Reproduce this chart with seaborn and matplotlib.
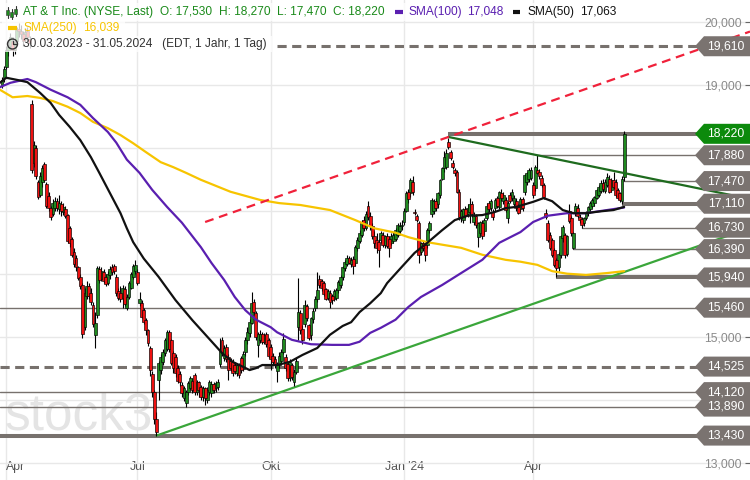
import numpy as np
import pandas as pd
import matplotlib
matplotlib.use("Agg")
import matplotlib.pyplot as plt
import seaborn as sns
from matplotlib.patches import Polygon, Rectangle, Ellipse
from matplotlib.transforms import blended_transform_factory

# ------------------------------------------------------------------ data
HOLIDAYS = ["2023-04-07", "2023-05-29", "2023-06-19", "2023-07-04", "2023-09-04",
            "2023-11-23", "2023-12-25", "2024-01-01", "2024-01-15", "2024-02-19",
            "2024-03-29", "2024-05-27"]

OPEN = [19.00,19.10,19.28,19.55,19.62,19.70,19.55,19.70,19.88,19.85,19.80,19.72,19.85,19.72,
        18.70,17.75,18.00,17.45,17.25,17.45,17.74,17.42,17.24,17.04,16.95,17.05,17.15,17.02,17.10,16.98,
        17.02,16.93,16.72,16.55,16.35,16.25,16.10,15.95,15.82,15.15,15.65,15.80,15.70,15.50,15.02,15.34,
        16.08,15.92,16.02,15.95,15.85,15.98,16.10,16.12,15.95,15.72,15.70,15.62,15.75,15.46,15.63,15.78,
        15.95,16.05,16.02,15.53,15.53,15.42,15.26,15.10,14.82,14.40,14.12,13.70,14.31,14.47,14.60,14.74,
        14.80,15.07,14.94,14.74,14.68,14.50,14.40,14.23,14.02,13.95,14.12,14.18,14.30,14.39,14.12,14.28,
        14.20,14.04,14.18,14.00,14.12,14.10,14.25,14.18,14.20,14.57,14.95,14.66,14.83,14.68,14.62,14.60,
        14.55,14.42,14.55,14.66,14.48,14.75,14.95,15.06,15.22,15.55,15.38,14.86,14.95,15.05,14.92,15.05,
        14.94,14.84,14.70,14.65,14.45,14.55,14.62,14.76,14.68,14.57,14.34,14.55,14.28,14.44,15.15,15.38,
        15.12,15.20,15.48,15.18,15.02,15.28,15.45,15.60,15.92,15.88,15.85,15.75,15.62,15.70,15.65,15.60,
        15.61,15.74,15.82,15.94,16.09,16.16,16.25,16.15,16.24,16.17,16.40,16.52,16.62,16.85,16.72,17.08,
        16.92,16.75,16.60,16.53,16.50,16.53,16.62,16.45,16.60,16.55,16.48,16.52,16.55,16.62,16.68,16.75,
        16.82,17.00,17.30,17.28,17.45,16.98,16.92,16.80,16.34,16.48,16.45,16.45,16.69,16.95,17.00,17.15,
        17.10,17.25,17.51,17.67,17.70,18.09,17.93,17.76,17.64,17.61,17.30,16.88,16.85,17.03,16.95,16.98,
        17.10,16.82,16.92,16.58,16.65,16.80,16.68,16.88,17.12,17.05,16.98,17.05,17.20,17.06,17.28,17.15,
        17.17,16.88,17.25,17.20,17.10,17.15,17.06,17.02,17.18,17.30,17.45,17.50,17.52,17.40,17.36,17.65,
        17.62,17.52,17.40,16.97,16.80,16.61,16.53,16.37,16.21,16.11,16.29,16.56,16.61,16.32,17.00,16.89,
        16.40,16.97,17.05,16.90,16.87,16.80,16.88,16.96,17.02,17.08,17.12,17.20,17.25,17.31,17.44,17.31,
        17.41,17.51,17.33,17.49,17.46,17.33,17.28,17.15,17.53]
HIGH = [19.12,19.30,19.62,19.70,19.82,19.75,19.72,19.92,19.98,19.95,19.85,19.90,19.92,19.78,
        18.75,18.10,18.05,17.48,17.62,17.72,17.78,17.45,17.30,17.08,17.18,17.22,17.20,17.25,17.15,17.12,
        17.08,16.95,16.75,16.58,16.40,16.30,16.12,16.00,15.85,15.78,15.88,15.85,15.78,15.55,15.39,16.12,
        16.12,16.10,16.08,16.00,16.05,16.12,16.15,16.15,16.00,15.78,15.80,15.82,15.80,15.68,15.88,16.02,
        16.15,16.22,16.08,15.71,15.58,15.45,15.30,15.12,14.85,14.45,14.15,13.80,14.62,14.72,14.80,14.98,
        15.10,15.10,14.97,14.78,14.72,14.55,14.45,14.28,14.22,14.15,14.30,14.38,14.35,14.42,14.32,14.30,
        14.24,14.22,14.20,14.20,14.32,14.30,14.28,14.30,14.33,14.98,15.00,14.86,14.88,14.72,14.66,14.64,
        14.60,14.58,14.58,14.70,14.78,15.00,15.15,15.28,15.71,15.60,15.40,15.08,15.10,15.08,15.06,15.08,
        14.98,14.88,14.74,14.70,14.60,14.75,14.80,15.06,14.72,14.60,14.64,14.58,14.48,14.66,15.93,15.42,
        15.18,15.58,15.52,15.20,15.32,15.45,15.65,16.03,15.98,15.92,15.88,15.78,15.76,15.74,15.68,15.76,
        15.78,15.90,15.98,16.12,16.22,16.30,16.28,16.26,16.28,16.45,16.58,16.70,16.85,16.92,17.00,17.15,
        16.98,16.80,16.68,16.65,16.55,16.68,16.66,16.62,16.64,16.60,16.64,16.66,16.72,16.80,16.82,16.85,
        17.05,17.32,17.35,17.52,17.55,17.02,16.95,16.84,16.50,16.52,16.48,16.72,16.84,17.20,17.18,17.20,
        17.30,17.50,17.70,17.95,17.98,18.15,17.96,17.80,17.68,17.65,17.35,17.02,17.05,17.08,17.10,17.20,
        17.15,16.98,16.95,16.82,16.84,16.85,16.88,17.12,17.16,17.18,17.02,17.20,17.24,17.32,17.34,17.30,
        17.22,17.15,17.30,17.35,17.25,17.20,17.10,17.22,17.22,17.58,17.62,17.68,17.70,17.45,17.72,17.88,
        17.66,17.56,17.44,17.02,16.85,16.66,16.56,16.40,16.25,16.35,16.62,16.78,16.65,16.62,17.10,16.92,
        16.66,17.12,17.10,16.95,16.90,16.90,17.00,17.08,17.15,17.20,17.24,17.35,17.40,17.48,17.50,17.50,
        17.60,17.56,17.52,17.62,17.50,17.36,17.30,17.55,18.27]
LOW = [18.95,19.05,19.25,19.45,19.55,19.45,19.48,19.66,19.75,19.72,19.62,19.68,19.70,19.58,
       17.60,17.70,17.50,17.18,17.22,17.38,17.45,17.05,17.00,16.85,16.92,17.00,17.00,16.95,16.92,16.93,
       16.88,16.48,16.42,16.27,16.10,16.05,15.90,15.75,14.98,15.10,15.60,15.60,15.50,15.15,14.82,15.30,
       15.85,15.88,15.85,15.80,15.82,15.92,15.98,16.00,15.65,15.58,15.55,15.46,15.48,15.42,15.60,15.75,
       15.92,16.00,15.82,15.48,15.30,15.20,15.03,14.85,14.37,14.05,13.62,13.43,14.00,14.40,14.55,14.70,
       14.78,14.75,14.55,14.42,14.36,14.26,14.22,14.05,13.98,13.88,14.08,14.15,14.10,14.08,14.08,14.05,
       14.00,13.98,13.92,13.95,14.08,14.05,14.10,14.12,14.15,14.52,14.70,14.62,14.60,14.32,14.45,14.38,
       14.40,14.38,14.35,14.42,14.45,14.70,14.88,15.00,15.20,15.35,14.95,14.68,14.90,14.88,14.88,14.84,
       14.66,14.47,14.55,14.50,14.28,14.50,14.58,14.72,14.46,14.30,14.30,14.32,14.22,14.40,14.94,15.05,
       14.88,15.15,15.25,14.95,14.95,15.22,15.40,15.55,15.78,15.72,15.65,15.58,15.58,15.46,15.52,15.56,
       15.58,15.70,15.78,15.90,16.05,16.12,16.15,16.10,16.00,16.12,16.36,16.48,16.58,16.68,16.70,16.85,
       16.70,16.55,16.40,16.33,16.10,16.48,16.42,16.40,16.40,16.27,16.45,16.48,16.52,16.58,16.62,16.70,
       16.78,16.98,17.12,17.22,17.25,16.93,16.82,16.17,16.30,16.36,16.20,16.40,16.65,16.90,16.95,17.00,
       17.05,17.20,17.48,17.62,17.66,17.98,17.80,17.66,17.55,17.28,16.85,16.82,16.80,16.88,16.90,16.80,
       16.90,16.78,16.72,16.42,16.60,16.55,16.62,16.85,16.98,17.00,16.85,17.00,17.04,17.02,17.15,17.10,
       16.98,16.80,17.12,17.15,17.05,17.00,16.94,16.98,17.00,17.25,17.40,17.45,17.48,17.20,17.32,17.58,
       17.50,17.38,17.18,16.86,16.50,16.38,16.26,16.10,15.94,16.05,16.25,16.50,16.25,16.28,16.80,16.60,
       16.39,16.92,16.88,16.80,16.73,16.76,16.85,16.92,16.98,17.05,17.08,17.18,17.22,17.28,17.30,17.28,
       17.38,17.28,17.30,17.35,17.22,17.18,17.14,17.11,17.47]
CLOSE = [19.08,19.25,19.55,19.60,19.75,19.55,19.68,19.86,19.85,19.80,19.70,19.84,19.75,19.66,
         17.65,18.05,17.55,17.22,17.55,17.68,17.49,17.08,17.05,16.90,17.12,17.15,17.05,17.12,17.00,17.06,
         16.92,16.52,16.48,16.30,16.15,16.10,15.93,15.80,15.05,15.70,15.80,15.65,15.55,15.20,15.22,16.09,
         15.90,16.05,15.88,15.84,16.00,16.08,16.02,16.05,15.70,15.62,15.60,15.78,15.52,15.63,15.85,16.00,
         16.12,16.14,15.85,15.60,15.31,15.23,15.10,14.90,14.47,14.12,13.70,13.48,14.58,14.68,14.76,14.94,
         15.07,14.80,14.58,14.50,14.42,14.30,14.28,14.10,14.18,14.12,14.26,14.34,14.15,14.12,14.28,14.15,
         14.04,14.18,14.02,14.15,14.28,14.25,14.15,14.26,14.28,14.78,14.74,14.82,14.64,14.47,14.50,14.42,
         14.45,14.55,14.39,14.47,14.72,14.95,15.08,15.23,15.53,15.39,15.00,15.05,15.05,14.92,15.02,14.88,
         14.70,14.65,14.60,14.55,14.55,14.70,14.76,14.97,14.50,14.35,14.60,14.36,14.44,14.62,15.39,15.10,
         14.95,15.50,15.30,14.98,15.30,15.40,15.60,15.74,15.82,15.78,15.68,15.60,15.72,15.55,15.58,15.72,
         15.74,15.86,15.94,16.10,16.18,16.25,16.17,16.22,16.12,16.43,16.54,16.65,16.80,16.72,16.95,16.90,
         16.75,16.60,16.48,16.41,16.38,16.65,16.45,16.60,16.44,16.40,16.60,16.62,16.70,16.78,16.75,16.78,
         17.00,17.28,17.18,17.48,17.30,16.96,16.85,16.30,16.48,16.40,16.30,16.70,16.80,17.17,17.15,17.05,
         17.28,17.48,17.67,17.85,17.92,18.01,17.83,17.69,17.60,17.30,16.90,17.00,17.02,16.92,17.05,17.10,
         16.95,16.92,16.78,16.80,16.82,16.60,16.85,17.08,17.02,17.15,16.90,17.17,17.07,17.30,17.20,17.25,
         17.01,17.12,17.15,17.30,17.20,17.05,16.97,17.18,17.05,17.56,17.60,17.65,17.65,17.25,17.70,17.60,
         17.55,17.41,17.21,16.90,16.53,16.41,16.29,16.14,16.09,16.32,16.60,16.74,16.29,16.60,16.84,16.64,
         16.64,17.08,16.92,16.85,16.78,16.88,16.96,17.06,17.12,17.17,17.21,17.33,17.38,17.44,17.34,17.46,
         17.54,17.30,17.49,17.38,17.25,17.20,17.17,17.50,18.22]

# moving averages (trading-day index, value)
SMA50_IDX = [-1, 2, 8, 12, 18, 23, 27, 32, 37, 42, 46, 51, 56, 59, 62, 67, 74, 82, 90, 97,
             104, 109, 114, 117, 120, 123, 130, 136, 142, 149, 155, 161, 165, 169, 174, 179, 182, 189, 195, 201,
             208, 214, 220, 227, 233, 238, 243, 251, 256, 260, 265, 270, 276, 283, 289, 294]
SMA50_VAL = [19.03, 19.11, 19.07, 19.04, 18.87, 18.71, 18.52, 18.33, 18.12, 17.85,
             17.60, 17.28, 16.96, 16.72, 16.50, 16.24, 15.95, 15.58, 15.26, 15.00,
             14.74, 14.60, 14.52, 14.47, 14.50, 14.55, 14.55, 14.60, 14.71, 14.82,
             15.03, 15.17, 15.23, 15.39, 15.53, 15.69, 15.85, 16.11, 16.33, 16.49,
             16.69, 16.85, 16.92, 16.93, 16.98, 17.04, 17.06, 17.14, 17.20, 17.15,
             17.01, 16.96, 16.96, 16.99, 17.01, 17.06]
SMA100_IDX = [-1, 4, 12, 16, 23, 31, 37, 43, 50, 54, 59, 65, 71, 78, 85, 94, 99, 105, 110, 115,
              120, 127, 130, 137, 146, 156, 164, 169, 174, 179, 186, 192, 198, 208, 217, 227, 235, 245, 251, 258,
              267, 276, 286, 294]
SMA100_VAL = [18.96, 19.03, 19.09, 19.04, 18.92, 18.80, 18.68, 18.47, 18.25, 18.08,
              17.81, 17.60, 17.33, 17.06, 16.81, 16.42, 16.17, 15.90, 15.63, 15.42,
              15.27, 15.15, 15.07, 14.95, 14.88, 14.87, 14.87, 14.92, 15.06, 15.14,
              15.27, 15.47, 15.63, 15.82, 16.01, 16.22, 16.49, 16.66, 16.82, 16.92,
              16.96, 16.96, 17.01, 17.05]
SMA250_IDX = [-1, 5, 12, 18, 24, 31, 37, 43, 50, 56, 62, 68, 75, 81, 87, 94, 108, 122, 131, 141,
              155, 167, 176, 186, 192, 201, 208, 217, 227, 238, 245, 253, 260, 267, 276, 286, 294]
SMA250_VAL = [18.92, 18.80, 18.82, 18.79, 18.74, 18.65, 18.55, 18.41, 18.31, 18.20,
              18.07, 17.93, 17.77, 17.69, 17.60, 17.49, 17.30, 17.17, 17.12, 17.09,
              17.01, 16.85, 16.72, 16.65, 16.58, 16.50, 16.46, 16.41, 16.30, 16.22,
              16.19, 16.14, 16.04, 16.00, 15.98, 16.01, 16.04]

# horizontal marks: level, start date (None = whole width), style
H_LEVELS = [19.61, 18.22, 17.88, 17.47, 17.11, 16.73, 16.39, 15.94, 15.46, 14.525, 14.12, 13.89, 13.43]
H_START = ["2023-10-05", "2024-02-01", "2024-04-03", "2024-05-31", "2024-05-30", "2024-05-02",
           "2024-04-26", "2024-04-16", None, None, None, None, None]
H_STYLE = ["dash", "thick", "thin", "thin", "thick", "thin", "thin", "thick", "thin", "dash",
           "thin", "thin", "thick"]

# trend lines: two anchor points (date, value)
TREND_RED = [("2023-08-17", 16.82), ("2024-02-01", 18.17)]
TREND_RES = [("2024-02-01", 18.17), ("2024-04-03", 17.88)]
TREND_SUP = [("2023-07-17", 13.43), ("2024-04-16", 15.65)]

Y_TICKS = [13, 14, 15, 16, 17, 18, 19, 20]
MONTH_NAMES = {1: "Jan", 4: "Apr", 7: "Jul", 10: "Okt"}

# ------------------------------------------------------------------ style
sns.set_theme(style="white")
plt.rcParams["font.family"] = ["Liberation Sans", "DejaVu Sans"]

GREEN_C = "#1f8a1f"
RED_C = "#ee1111"
GREY_L = "#77716d"
PURPLE = "#5a1fb0"
GOLD = "#f7c400"
TXT_GREEN = "#1a8a1a"

dates = pd.bdate_range("2023-03-30", "2024-05-31", freq="C", holidays=HOLIDAYS)
n = len(CLOSE)
dates = dates[:n]
xi = np.arange(n)


def idx_of(d):
    return float(dates.get_indexer([pd.Timestamp(d)], method="nearest")[0])


XMIN, XMAX = -0.945, 353.5
YMIN, YMAX = 12.725, 20.344
W, H = 750, 480
UPP = (YMAX - YMIN) / H  # data units per pixel
TAG_HALF = 10 * UPP

fig = plt.figure(figsize=(7.5, 4.8), dpi=100)
ax = fig.add_axes([0, 0, 1, 1])
ax.set_xlim(XMIN, XMAX)
ax.set_ylim(YMIN, YMAX)
for s in ax.spines.values():
    s.set_visible(False)
ax.set_axisbelow(True)

# ticks / grid
tick_pos, tick_lab = [], []
for i in range(n):
    if i == 0 or dates[i].month != dates[i - 1].month:
        m = dates[i].month
        if m in MONTH_NAMES and not (i == 0 and dates[i].day > 5):
            lab = MONTH_NAMES[m] + (f" '{dates[i]:%y}" if m == 1 else "")
            tick_pos.append(i)
            tick_lab.append(lab)
ax.set_xticks(tick_pos, tick_lab)
# value labels that sit beneath a price tag are hidden, as in the original
ylabels = []
for v in Y_TICKS:
    covered = any(abs(v - lvl) < TAG_HALF + 6 * UPP for lvl in H_LEVELS)
    ylabels.append("" if covered else f"{v:.3f}".replace(".", ","))
ax.set_yticks(Y_TICKS, ylabels)
ax.grid(True, color="#e8e8e8", linewidth=1.0)
ax.yaxis.tick_right()
ax.tick_params(axis="y", direction="in", length=3.6, width=0.8, color="#666666",
               labelcolor="#8a8a8a", labelsize=8.8, pad=-6)
ax.tick_params(axis="x", length=0, labelcolor="#555555", labelsize=8.8, pad=-13.5)
for t in ax.get_yticklabels():
    t.set_horizontalalignment("right")
xl = ax.get_xticklabels()
xl[0].set_horizontalalignment("left")

# watermark
ax.text(5 / W, 1 - 430 / H, "stock3", transform=ax.transAxes, fontsize=37,
        color="#e4e4e4", ha="left", va="baseline", zorder=0.6)

# horizontal lines
for lvl, st, sty in zip(H_LEVELS, H_START, H_STYLE):
    x0 = XMIN if st is None else idx_of(st)
    if sty == "thick":
        ax.plot([x0, XMAX], [lvl, lvl], color=GREY_L, lw=2.9, solid_capstyle="butt", zorder=2)
    elif sty == "thin":
        ax.plot([x0, XMAX], [lvl, lvl], color=GREY_L, lw=1.0, zorder=2)
    else:
        ax.plot([x0, XMAX], [lvl, lvl], color=GREY_L, lw=2.2, dashes=(3.0, 1.8), zorder=2)


# trend lines (extended to the right edge)
def trend(anchors, **kw):
    (d0, v0), (d1, v1) = anchors
    i0, i1 = idx_of(d0), idx_of(d1)
    slope = (v1 - v0) / (i1 - i0)
    ax.plot([i0, XMAX], [v0, v0 + slope * (XMAX - i0)], **kw)


trend(TREND_SUP, color="#3aa63a", lw=1.6, zorder=2.5)
trend(TREND_RES, color="#1e6b1e", lw=1.6, zorder=5.5)
trend(TREND_RED, color="#f0213a", lw=1.6, dashes=(4, 2.6), zorder=5.5)

# candles
o = np.array(OPEN)
c = np.array(CLOSE)
up = c >= o
ax.vlines(xi, LOW, HIGH, color="black", lw=0.8, zorder=3)
hgt = np.maximum(np.abs(c - o), 0.012)
ax.bar(xi[up], hgt[up], bottom=o[up], width=1.35, color=GREEN_C, edgecolor="black",
       linewidth=0.45, zorder=4)
ax.bar(xi[~up], hgt[~up], bottom=c[~up], width=1.35, color=RED_C, edgecolor="black",
       linewidth=0.45, zorder=4)

# moving averages
sns.lineplot(x=SMA250_IDX, y=SMA250_VAL, ax=ax, color=GOLD, linewidth=1.6,
             estimator=None, sort=False, zorder=5)
sns.lineplot(x=SMA100_IDX, y=SMA100_VAL, ax=ax, color=PURPLE, linewidth=1.6,
             estimator=None, sort=False, zorder=5)
sns.lineplot(x=SMA50_IDX, y=SMA50_VAL, ax=ax, color="#111111", linewidth=1.6,
             estimator=None, sort=False, zorder=5)

# price tags on the right
tr = blended_transform_factory(ax.transAxes, ax.transData)
for lvl in H_LEVELS:
    col = "#0c8a0c" if abs(lvl - 18.22) < 1e-6 else "#7a7370"
    poly = Polygon([(695 / W, lvl), (704 / W, lvl + TAG_HALF), (1.0, lvl + TAG_HALF),
                    (1.0, lvl - TAG_HALF), (704 / W, lvl - TAG_HALF)], closed=True,
                   transform=tr, facecolor=col, edgecolor="none", zorder=8)
    ax.add_patch(poly)
    ax.text(726 / W, lvl, f"{lvl:.3f}".replace(".", ","), transform=tr, color="white",
            fontsize=8.8, ha="center", va="center", zorder=9)


# legend block
def fx(px):
    return px / W


def fy(py):
    return 1 - py / H


for (x0, x1, y0, y1) in [(2, 618, 3, 21), (2, 125, 21, 36), (2, 272, 36, 52)]:
    ax.add_patch(Rectangle((fx(x0), fy(y1)), fx(x1) - fx(x0), fy(y0) - fy(y1),
                           transform=ax.transAxes, facecolor="white", alpha=0.78,
                           edgecolor="none", zorder=6))

# candle icon
for px, b0, b1, w0, w1 in [(7.5, 10, 15, 7, 18), (11.5, 12, 17, 9, 19), (15.5, 9, 14, 6, 16)]:
    ax.plot([fx(px), fx(px)], [fy(w0), fy(w1)], transform=ax.transAxes, color="#333333",
            lw=0.8, zorder=7)
    ax.add_patch(Rectangle((fx(px - 1.5), fy(b1)), fx(3), fy(b0) - fy(b1),
                           transform=ax.transAxes, facecolor=GREEN_C, edgecolor="#333333",
                           lw=0.4, zorder=7.5))

fs = 8.6
row1 = 12
ax.text(fx(23), fy(row1), "AT & T Inc. (NYSE, Last)", transform=ax.transAxes, color=TXT_GREEN,
        fontsize=fs, va="center", zorder=7)
for px, s in [(160, "O: 17,530"), (219, "H: 18,270"), (277, "L: 17,470"), (333, "C: 18,220")]:
    ax.text(fx(px), fy(row1), s, transform=ax.transAxes, color=TXT_GREEN, fontsize=fs,
            va="center", zorder=7)
ax.plot([fx(395), fx(403)], [fy(row1)] * 2, transform=ax.transAxes, color=PURPLE, lw=3,
        solid_capstyle="butt", zorder=7)
ax.text(fx(408), fy(row1), "SMA(100)", transform=ax.transAxes, color=PURPLE, fontsize=fs,
        va="center", zorder=7)
ax.text(fx(467), fy(row1), "17,048", transform=ax.transAxes, color=PURPLE, fontsize=fs,
        va="center", zorder=7)
ax.plot([fx(513), fx(520)], [fy(row1)] * 2, transform=ax.transAxes, color="#111111", lw=3,
        solid_capstyle="butt", zorder=7)
ax.text(fx(527), fy(row1), "SMA(50)", transform=ax.transAxes, color="#111111", fontsize=fs,
        va="center", zorder=7)
ax.text(fx(580), fy(row1), "17,063", transform=ax.transAxes, color="#111111", fontsize=fs,
        va="center", zorder=7)

row2 = 28
ax.plot([fx(8), fx(17)], [fy(row2)] * 2, transform=ax.transAxes, color=GOLD, lw=3,
        solid_capstyle="butt", zorder=7)
ax.text(fx(23), fy(row2), "SMA(250)", transform=ax.transAxes, color=GOLD, fontsize=fs,
        va="center", zorder=7)
ax.text(fx(83), fy(row2), "16,039", transform=ax.transAxes, color=GOLD, fontsize=fs,
        va="center", zorder=7)

row3 = 44
ax.add_patch(Ellipse((fx(12.5), fy(row3)), fx(10), 10 / H, transform=ax.transAxes,
                     facecolor="none", edgecolor="#333333", lw=1.0, zorder=7))
ax.plot([fx(12.5), fx(12.5), fx(15.5)], [fy(row3 - 3.5), fy(row3), fy(row3)],
        transform=ax.transAxes, color="#333333", lw=0.9, zorder=7)
ax.text(fx(23), fy(row3), "30.03.2023 - 31.05.2024   (EDT, 1 Jahr, 1 Tag)",
        transform=ax.transAxes, color="#333333", fontsize=fs, va="center", zorder=7)

fig.savefig("out.png", dpi=100)
